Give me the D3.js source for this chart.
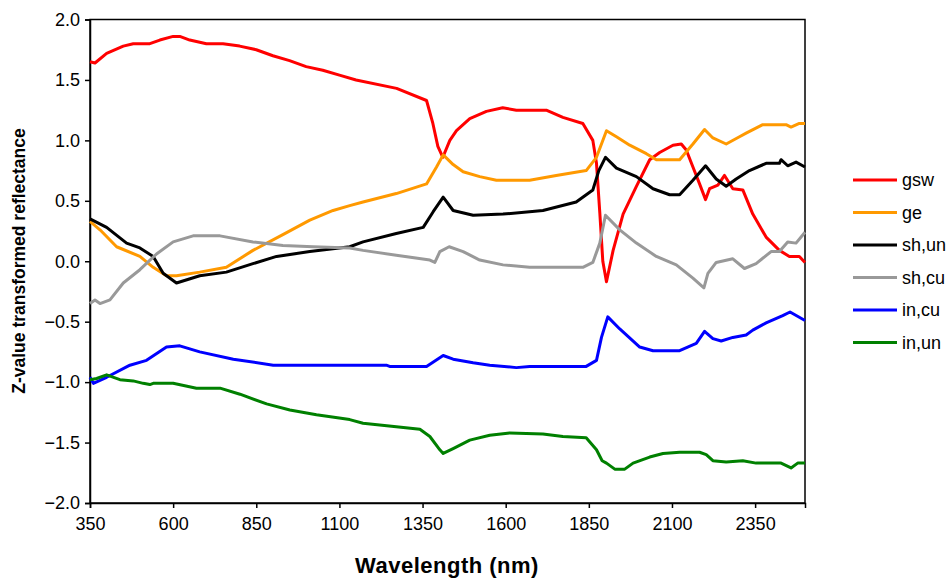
<!DOCTYPE html>
<html>
<head>
<meta charset="utf-8">
<script src="https://cdn.jsdelivr.net/npm/d3@7"></script>
<style>
  body { margin: 0; background: #fff; }
  text { font-family: "Liberation Sans", Arial, sans-serif; fill: #000; }
</style>
</head>
<body>
<div id="chart"></div>
<script>
/* DATA: [wavelength nm, z-value] */
const seriesNames = ["gsw", "ge", "sh,un", "sh,cu", "in,cu", "in,un"];
const seriesColors = ["#ff0000", "#ff9900", "#000000", "#999999", "#0000ff", "#008000"];

const gsw = [[350,1.65],[365,1.64],[400,1.72],[450,1.78],[480,1.80],[530,1.80],[560,1.83],[600,1.86],[620,1.86],[650,1.83],
  [700,1.80],[750,1.80],[800,1.78],[850,1.75],[900,1.70],[950,1.66],[1000,1.61],[1050,1.58],[1100,1.54],[1150,1.50],
  [1272,1.43],[1362,1.33],[1381,1.14],[1396,0.95],[1411,0.86],[1432,1.00],[1452,1.08],[1492,1.18],[1542,1.24],[1591,1.27],
  [1632,1.25],[1722,1.25],[1772,1.19],[1832,1.14],[1862,1.00],[1873,0.81],[1883,0.40],[1892,0.0],[1903,-0.17],[1923,0.09],
  [1953,0.39],[1993,0.62],[2033,0.84],[2063,0.90],[2103,0.96],[2128,0.97],[2143,0.92],[2163,0.78],[2183,0.64],[2201,0.51],
  [2213,0.60],[2238,0.63],[2258,0.71],[2283,0.60],[2313,0.59],[2343,0.39],[2383,0.20],[2423,0.09],[2453,0.04],[2483,0.04],[2500,-0.01]];

const ge = [[350,0.33],[380,0.26],[430,0.12],[500,0.04],[540,-0.05],[580,-0.12],[610,-0.12],[680,-0.09],[760,-0.05],[840,0.09],
  [930,0.22],[1011,0.34],[1081,0.42],[1131,0.46],[1171,0.49],[1271,0.56],[1362,0.64],[1392,0.78],[1412,0.88],[1442,0.80],
  [1472,0.74],[1522,0.70],[1572,0.67],[1672,0.67],[1752,0.71],[1842,0.75],[1873,0.86],[1903,1.08],[1933,1.03],[1973,0.96],
  [2023,0.89],[2053,0.84],[2123,0.84],[2163,0.97],[2198,1.09],[2223,1.02],[2263,0.97],[2303,1.03],[2323,1.06],[2373,1.13],
  [2443,1.13],[2458,1.11],[2483,1.14],[2500,1.14]];

const shUn = [[350,0.35],[400,0.28],[460,0.15],[500,0.11],[540,0.04],[570,-0.10],[610,-0.18],[680,-0.12],[760,-0.09],[840,-0.02],
  [911,0.04],[1011,0.08],[1131,0.12],[1171,0.16],[1271,0.23],[1352,0.28],[1382,0.41],[1412,0.53],[1442,0.42],[1502,0.38],
  [1592,0.39],[1712,0.42],[1812,0.49],[1862,0.59],[1880,0.75],[1900,0.86],[1933,0.77],[1993,0.70],[2043,0.60],[2093,0.55],
  [2123,0.55],[2163,0.67],[2201,0.79],[2233,0.68],[2263,0.62],[2293,0.68],[2333,0.75],[2383,0.81],[2423,0.81],[2428,0.84],
  [2448,0.79],[2473,0.82],[2500,0.78]];

const shCu = [[350,-0.35],[365,-0.32],[380,-0.35],[410,-0.32],[450,-0.18],[500,-0.07],[550,0.06],[600,0.16],[660,0.21],[741,0.21],
  [840,0.16],[930,0.13],[1021,0.12],[1131,0.11],[1171,0.09],[1271,0.05],[1372,0.01],[1387,-0.01],[1402,0.08],[1430,0.12],
  [1472,0.08],[1522,0.01],[1592,-0.03],[1672,-0.05],[1832,-0.05],[1862,-0.01],[1883,0.15],[1900,0.38],[1943,0.26],[1993,0.15],
  [2053,0.04],[2113,-0.03],[2163,-0.14],[2196,-0.22],[2208,-0.10],[2233,-0.01],[2283,0.02],[2318,-0.06],[2353,-0.02],[2398,0.08],
  [2423,0.08],[2448,0.16],[2473,0.15],[2500,0.24]];

const inCu = [[350,-0.96],[360,-1.01],[400,-0.96],[470,-0.86],[520,-0.82],[580,-0.71],[620,-0.70],[680,-0.75],[781,-0.81],[901,-0.86],
  [1241,-0.86],[1251,-0.87],[1362,-0.87],[1412,-0.78],[1442,-0.81],[1502,-0.84],[1552,-0.86],[1632,-0.88],[1672,-0.87],[1842,-0.87],
  [1873,-0.82],[1888,-0.63],[1907,-0.46],[1943,-0.56],[2003,-0.71],[2043,-0.74],[2123,-0.74],[2173,-0.68],[2198,-0.58],[2223,-0.64],
  [2248,-0.66],[2283,-0.63],[2323,-0.61],[2343,-0.57],[2383,-0.51],[2433,-0.45],[2455,-0.42],[2500,-0.49]];

const inUn = [[350,-0.98],[370,-0.97],[400,-0.94],[440,-0.98],[480,-0.99],[510,-1.01],[530,-1.02],[540,-1.01],[600,-1.01],[670,-1.05],
  [741,-1.05],[801,-1.10],[881,-1.18],[951,-1.23],[1031,-1.27],[1131,-1.31],[1171,-1.34],[1271,-1.37],[1342,-1.39],[1372,-1.45],
  [1402,-1.56],[1412,-1.59],[1442,-1.55],[1492,-1.48],[1552,-1.44],[1612,-1.42],[1712,-1.43],[1772,-1.45],[1842,-1.46],[1873,-1.56],
  [1890,-1.65],[1903,-1.67],[1928,-1.72],[1958,-1.72],[1983,-1.67],[2033,-1.62],[2073,-1.59],[2123,-1.58],[2183,-1.58],[2203,-1.60],
  [2223,-1.65],[2263,-1.66],[2313,-1.65],[2353,-1.67],[2428,-1.67],[2458,-1.71],[2478,-1.67],[2500,-1.67]];

const allSeries = [gsw, ge, shUn, shCu, inCu, inUn];
const xTicks = [350, 600, 850, 1100, 1350, 1600, 1850, 2100, 2350];
const yTicks = [-2.0, -1.5, -1.0, -0.5, 0.0, 0.5, 1.0, 1.5, 2.0];

/* LAYOUT */
const width = 951, height = 579;
const margin = { top: 19.5, left: 90, right: 146, bottom: 76 };

const svg = d3.select("#chart").append("svg")
  .attr("width", width)
  .attr("height", height);

const xScale = d3.scaleLinear()
  .domain([350, 2500])
  .range([margin.left, width - margin.right]);

const yScale = d3.scaleLinear()
  .domain([-2, 2])
  .range([height - margin.bottom, margin.top]);

// plot box (top and right edges)
svg.append("rect")
  .attr("x", margin.left)
  .attr("y", margin.top)
  .attr("width", xScale.range()[1] - margin.left)
  .attr("height", yScale.range()[0] - margin.top)
  .attr("fill", "none")
  .attr("stroke", "#000")
  .attr("stroke-width", 1.5);

// axes
const xAxis = d3.axisBottom(xScale).tickValues(xTicks).tickSize(5).tickPadding(9).tickFormat(d3.format("d"));
const yAxis = d3.axisLeft(yScale).tickValues(yTicks).tickSize(5).tickPadding(5).tickFormat(d3.format(".1f"));

svg.append("g")
  .attr("transform", `translate(0,${yScale(-2)})`)
  .call(xAxis)
  .call(g => g.selectAll(".domain, line").attr("stroke", "#000").attr("stroke-width", 1.5))
  .call(g => g.selectAll("text").attr("font-size", 18).attr("font-family", "Liberation Sans, Arial, sans-serif"));

svg.append("g")
  .attr("transform", `translate(${margin.left},0)`)
  .call(yAxis)
  .call(g => g.selectAll(".domain, line").attr("stroke", "#000").attr("stroke-width", 1.5))
  .call(g => g.selectAll("text").attr("font-size", 18).attr("font-family", "Liberation Sans, Arial, sans-serif"));

// axis titles
svg.append("text")
  .attr("x", 447)
  .attr("y", 573)
  .attr("text-anchor", "middle")
  .attr("font-size", 22)
  .attr("font-weight", "bold")
  .attr("letter-spacing", 0.5)
  .text("Wavelength (nm)");

svg.append("text")
  .attr("transform", "translate(25,261) rotate(-90)")
  .attr("text-anchor", "middle")
  .attr("font-size", 17.5)
  .attr("font-weight", "bold")
  .text("Z-value transformed reflectance");

// lines
const line = d3.line()
  .x(d => xScale(d[0]))
  .y(d => yScale(d[1]));

svg.append("g")
  .selectAll("path")
  .data(allSeries)
  .join("path")
  .attr("d", line)
  .attr("fill", "none")
  .attr("stroke", (d, i) => seriesColors[i])
  .attr("stroke-width", 3)
  .attr("stroke-linejoin", "round");

// legend
const legend = svg.append("g")
  .selectAll("g")
  .data(seriesNames)
  .join("g")
  .attr("transform", (d, i) => `translate(853,${180 + i * 32.5})`);

legend.append("line")
  .attr("x1", 0).attr("x2", 44)
  .attr("stroke", (d, i) => seriesColors[i])
  .attr("stroke-width", 3);

legend.append("text")
  .attr("x", 49)
  .attr("dy", "0.35em")
  .attr("font-size", 18)
  .text(d => d);
</script>
</body>
</html>
